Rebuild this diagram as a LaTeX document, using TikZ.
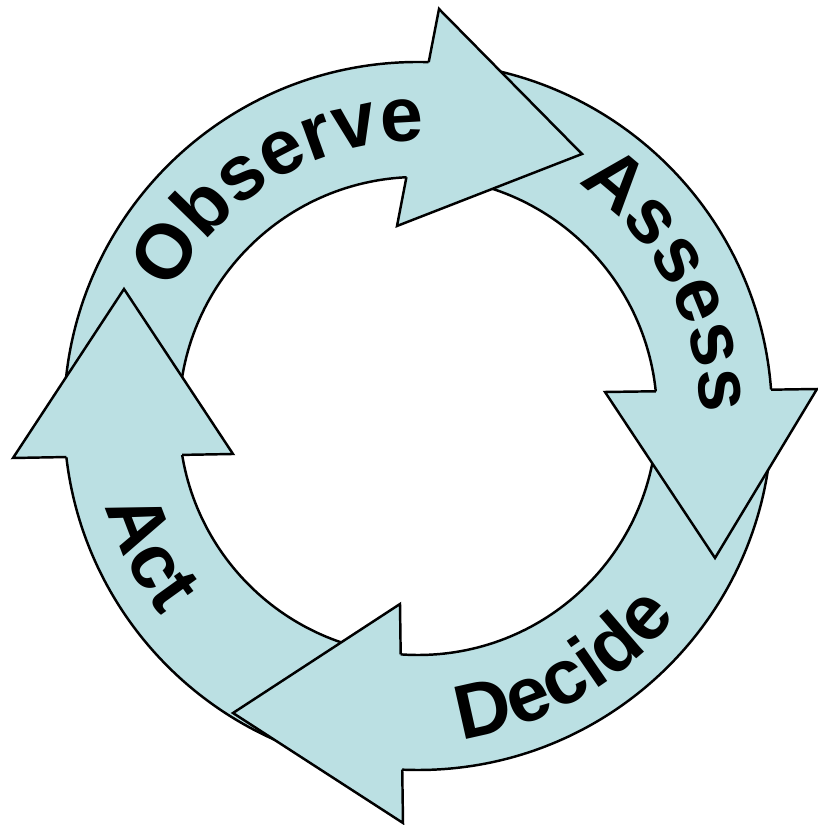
\documentclass[tikz,border=0pt]{standalone}
\usepackage{fontspec}
\setsansfont{Liberation Sans}
\usetikzlibrary{intersections,decorations.text}
\definecolor{ringblue}{RGB}{187,224,227}
\newcommand\cyclefont{\sffamily\bfseries\fontsize{22}{26}\selectfont}
\tikzset{
  ring/.style={fill=ringblue, draw=black, line width=0.7pt, even odd rule},
  headfill/.style={fill=ringblue},
  headline/.style={draw=black, line width=0.7pt, line join=miter},
  cycletext/.style={decorate, decoration={text along path, text align=center, text={|\cyclefont|#1}}}
}

\begin{document}
\begin{tikzpicture}[x=0.01cm, y=0.01cm]
  \useasboundingbox (0,0) rectangle (817,825);
  \coordinate (c) at (418,409);
  % arrow heads: outer barb, tip, inner barb
  \coordinate (obs-bo) at (439,816);
  \coordinate (obs-tip) at (582,671);
  \coordinate (obs-bi) at (397,599);
  \coordinate (ass-bo) at (817,436);
  \coordinate (ass-tip) at (715,267);
  \coordinate (ass-bi) at (605,433);
  \coordinate (dec-bo) at (403,2);
  \coordinate (dec-tip) at (233,112);
  \coordinate (dec-bi) at (400,221);
  \coordinate (act-bo) at (13,367);
  \coordinate (act-tip) at (124,536);
  \coordinate (act-bi) at (233,371);

  % the ring
  \path[ring] (c) circle (354) (c) circle (239);
  \path[name path=outer] (c) circle (354);
  \path[name path=inner] (c) circle (239);

  \foreach \n in {obs,ass,dec,act} {
    \path[name path=base] (\n-bo) -- (\n-bi);
    \path[name intersections={of=outer and base, by=\n-so}];
    \path[name intersections={of=inner and base, by=\n-si}];
    \path[headfill] (\n-so) -- (\n-bo) -- (\n-tip) -- (\n-bi) -- (\n-si) -- cycle;
    \path[headline] (\n-so) -- (\n-bo) -- (\n-tip) -- (\n-bi) -- (\n-si);
  }

  % labels
  \path[cycletext=Observe] ([shift={(181:275)}]c) arc[start angle=181, end angle=61, radius=275];
  \path[cycletext=Assess] ([shift={(88:282)}]c) arc[start angle=88, end angle=-32, radius=282];
  \path[cycletext=Decide] ([shift={(-120:326)}]c) arc[start angle=-120, end angle=0, radius=326];
  \path[cycletext=Act] ([shift={(167:325)}]c) arc[start angle=167, end angle=247, radius=325];
\end{tikzpicture}
\end{document}
